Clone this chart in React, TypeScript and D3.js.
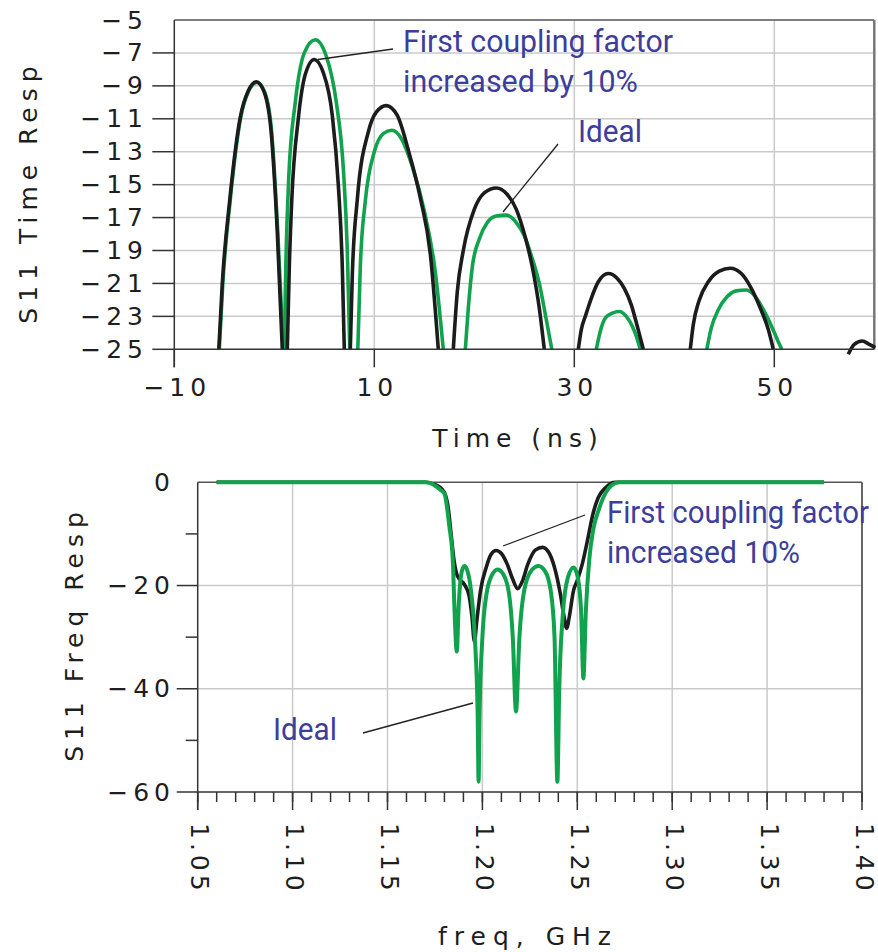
import React, { useEffect, useRef } from 'react'
import * as d3 from 'd3'

// S11 time response, one array per lobe: [time ns, dB]
const timeIncreased = [
  [[-5.55, -25], [-5.2, -21], [-4.45, -15.9], [-3.4, -10.9], [-2.6, -9.3], [-1.8, -8.75], [-1.0, -9.4], [-0.3, -11.9], [0.3, -17.9], [0.8, -25]],
  [[1.3, -25], [1.5, -20], [1.75, -15.9], [2.4, -11], [3.1, -8.3], [4.0, -7.4], [4.9, -8.2], [5.8, -10.8], [6.4, -15], [6.8, -20], [7.0, -25]],
  [[7.6, -25], [7.8, -20.5], [8.3, -15.9], [9.4, -11.8], [10.2, -10.6], [11.2, -10.2], [12.3, -10.8], [13.4, -12.9], [14.6, -15.8], [15.6, -19.2], [16.4, -25]],
  [[17.9, -25], [18.3, -21.5], [18.9, -19], [20.0, -16.5], [21.0, -15.5], [22.2, -15.2], [23.3, -15.6], [24.2, -16.5], [25.1, -18.2], [25.8, -20], [26.5, -22.5], [27.0, -25]],
  [[30.4, -25], [30.7, -23.8], [31.1, -23.0], [31.7, -21.9], [32.4, -20.9], [33.4, -20.4], [34.3, -20.7], [35.0, -21.3], [35.7, -22.3], [36.3, -23.6], [36.9, -25]],
  [[41.6, -25], [41.9, -23.5], [42.5, -22], [43.4, -20.9], [44.5, -20.25], [45.6, -20.08], [46.7, -20.4], [47.7, -21.3], [48.6, -22.5], [49.4, -23.8], [49.9, -25]],
  [[57.4, -25.3], [58.0, -24.7], [58.8, -24.5], [59.5, -24.7], [60.1, -24.9]]
]
const timeIdeal = [
  [[-5.5, -25], [-5.15, -21], [-4.4, -15.9], [-3.35, -10.9], [-2.55, -9.3], [-1.75, -8.8], [-0.95, -9.4], [-0.25, -11.9], [0.35, -17.9], [0.9, -25]],
  [[1.0, -25], [1.15, -20], [1.45, -14.5], [2.1, -10], [3.0, -7], [4.1, -6.2], [5.2, -7.2], [6.2, -10], [6.9, -14], [7.3, -19], [7.55, -25]],
  [[8.35, -25], [8.6, -20], [9.1, -16], [10, -13], [10.9, -11.9], [11.75, -11.7], [12.7, -12.2], [13.8, -13.9], [15, -16.6], [16.1, -20.3], [16.9, -25]],
  [[19.1, -25], [19.4, -22.5], [19.8, -20], [20.5, -18.3], [21.3, -17.3], [22.2, -16.9], [23.2, -16.85], [24.2, -17.3], [25.0, -18.1], [25.8, -19.5], [26.5, -21.0], [27.2, -23.2], [27.75, -25]],
  [[32.2, -25], [32.6, -23.9], [33.1, -23.1], [33.8, -22.8], [34.5, -22.7], [35.2, -23.0], [35.8, -23.6], [36.2, -24.2], [36.6, -25]],
  [[43.25, -25], [43.7, -23.7], [44.4, -22.6], [45.3, -21.8], [46.2, -21.45], [47.2, -21.4], [48.1, -21.8], [49.0, -22.7], [49.8, -23.7], [50.3, -24.4], [50.75, -25]]
]
const timeTicksX = [-10, 10, 30, 50]
const timeTicksY = [-5, -7, -9, -11, -13, -15, -17, -19, -21, -23, -25]

// S11 frequency response: [GHz, dB]
const freqIncreased = [
  [1.06, 0], [1.12, 0], [1.17, 0], [1.174, -0.3], [1.177, -0.8], [1.18, -2], [1.182, -5], [1.1835, -10], [1.185, -15],
  [1.1865, -17.8], [1.188, -18.8], [1.1905, -19.8], [1.193, -22], [1.1945, -26], [1.1958, -30.9], [1.197, -27],
  [1.199, -21], [1.202, -16.5], [1.2045, -14], [1.2072, -13.2], [1.21, -13.8], [1.213, -15.8], [1.216, -18.8],
  [1.2186, -20.6], [1.221, -19.2], [1.224, -15.8], [1.228, -13.1], [1.2317, -12.6], [1.235, -13.6], [1.238, -16.5],
  [1.241, -21.5], [1.243, -26], [1.2444, -28.3], [1.2458, -26], [1.248, -21], [1.25, -19], [1.2525, -16],
  [1.2555, -11], [1.258, -6.5], [1.261, -3], [1.265, -1], [1.27, 0], [1.32, 0], [1.38, 0]
]
const freqIdeal = [
  [1.06, 0], [1.12, 0], [1.17, 0], [1.1735, -0.3], [1.1756, -0.8], [1.178, -1.5], [1.18, -2.2], [1.1826, -8.6],
  [1.1844, -15.1], [1.1853, -24.7], [1.1865, -32.8], [1.1875, -24], [1.189, -17.5], [1.1905, -16.2], [1.192, -17],
  [1.194, -21], [1.196, -30], [1.1975, -45], [1.198, -58], [1.1985, -45], [1.2, -30], [1.202, -22], [1.205, -18],
  [1.208, -16.9], [1.211, -17.8], [1.214, -21.5], [1.216, -30], [1.2177, -44.4], [1.2195, -30], [1.222, -21],
  [1.226, -17], [1.2296, -16.2], [1.233, -17.2], [1.236, -21], [1.238, -30], [1.2395, -58], [1.2405, -40],
  [1.2425, -25], [1.245, -18.5], [1.248, -16.5], [1.25, -18], [1.252, -25], [1.2532, -38], [1.2545, -25],
  [1.2563, -15], [1.2585, -9], [1.2616, -5], [1.265, -2], [1.268, -0.6], [1.272, 0], [1.32, 0], [1.38, 0]
]
const freqTicksX = [1.05, 1.1, 1.15, 1.2, 1.25, 1.3, 1.35, 1.4]
const freqTickLabels = ['1.05', '1.10', '1.15', '1.20', '1.25', '1.30', '1.35', '1.40']
const freqTicksY = [0, -20, -40, -60]
const freqMinorY = [-10, -30, -50]

const GREEN = '#10a24c'
const BLACK = '#1c1c1c'
const GRID = '#cacaca'
const NOTE = '#3d3d9b'
const TICK_FONT = 'DejaVu Sans, sans-serif'
const NOTE_FONT = 'Liberation Sans Narrow, Roboto, sans-serif'

// condensed annotation text: squeeze the glyphs to the wanted width
function addNote(g, t, nx, ny, len) {
  const txt = g.append('text').text(t)
    .style('font-family', NOTE_FONT).style('font-size', '31px').style('fill', NOTE)
  const w = txt.node().getComputedTextLength() || len
  txt.attr('transform', `translate(${nx},${ny}) scale(${len / w},1)`)
}

const App = () => {
  const ref = useRef(null)

  function drawTime(svg) {
    const x = d3.scaleLinear().domain([-10, 60]).range([174.3, 874.3])
    const y = d3.scaleLinear().domain([-25, -5]).range([349.3, 20])
    const g = svg.append('g')

    // grid
    g.selectAll('.hgrid')
      .data(timeTicksY.filter((d) => d !== -5 && d !== -25))
      .enter()
      .append('line')
      .attr('x1', x(-10)).attr('x2', x(60))
      .attr('y1', (d) => y(d)).attr('y2', (d) => y(d))
      .attr('stroke', GRID).attr('stroke-width', 1.5)
    g.selectAll('.vgrid')
      .data(timeTicksX.filter((d) => d !== -10))
      .enter()
      .append('line')
      .attr('x1', (d) => x(d)).attr('x2', (d) => x(d))
      .attr('y1', y(-5)).attr('y2', y(-25))
      .attr('stroke', GRID).attr('stroke-width', 1.5)

    // frame
    g.append('line').attr('x1', x(-10)).attr('x2', x(60)).attr('y1', y(-5)).attr('y2', y(-5))
      .attr('stroke', '#555').attr('stroke-width', 1.5)
    g.append('line').attr('x1', x(60)).attr('x2', x(60)).attr('y1', y(-5)).attr('y2', y(-25))
      .attr('stroke', '#777').attr('stroke-width', 2.5)

    // curves
    const clipId = 'clipTime'
    svg.append('defs').append('clipPath').attr('id', clipId)
      .append('rect').attr('x', x(-10)).attr('y', y(-5)).attr('width', x(60) - x(-10) + 2).attr('height', y(-25) - y(-5) + 6)
    const line = d3.line().x((d) => x(d[0])).y((d) => y(d[1])).curve(d3.curveMonotoneX)
    const cg = g.append('g').attr('clip-path', `url(#${clipId})`)
    cg.selectAll('.ideal').data(timeIdeal).enter().append('path')
      .attr('d', line).attr('fill', 'none').attr('stroke', GREEN).attr('stroke-width', 3.6)
    cg.selectAll('.incr').data(timeIncreased).enter().append('path')
      .attr('d', line).attr('fill', 'none').attr('stroke', BLACK).attr('stroke-width', 3.6)

    // axes
    g.append('line').attr('x1', x(-10)).attr('x2', x(60)).attr('y1', y(-25)).attr('y2', y(-25))
      .attr('stroke', '#333').attr('stroke-width', 1.5)
    g.append('line').attr('x1', x(-10)).attr('x2', x(-10)).attr('y1', y(-5)).attr('y2', y(-25) + 18)
      .attr('stroke', '#333').attr('stroke-width', 1.5)
    g.selectAll('.ytick').data(timeTicksY.filter((d) => d !== -5)).enter().append('line')
      .attr('x1', x(-10) - 22).attr('x2', x(-10))
      .attr('y1', (d) => y(d)).attr('y2', (d) => y(d))
      .attr('stroke', '#333').attr('stroke-width', 1.5)
    g.selectAll('.xtick').data(timeTicksX).enter().append('line')
      .attr('x1', (d) => x(d)).attr('x2', (d) => x(d))
      .attr('y1', y(-25)).attr('y2', y(-25) + 18)
      .attr('stroke', '#333').attr('stroke-width', 1.5)

    // tick labels
    g.selectAll('.ylab').data(timeTicksY).enter().append('text')
      .text((d) => String(d).replace('-', '\u2212'))
      .attr('x', 148).attr('y', (d) => y(d))
      .attr('text-anchor', 'end').attr('dominant-baseline', 'central')
      .style('font-family', TICK_FONT).style('font-size', '25px').style('letter-spacing', '5px').style('fill', '#1e1e1e')
    g.selectAll('.xlab').data(timeTicksX).enter().append('text')
      .text((d) => String(d).replace('-', '\u2212'))
      .attr('x', (d) => x(d) + 3).attr('y', 396)
      .attr('text-anchor', 'middle')
      .style('font-family', TICK_FONT).style('font-size', '25px').style('letter-spacing', '5px').style('fill', '#1e1e1e')

    // titles
    g.append('text').text('Time (ns)').attr('x', 518).attr('y', 447).attr('text-anchor', 'middle')
      .style('font-family', TICK_FONT).style('font-size', '25px').style('letter-spacing', '6px').style('fill', '#1e1e1e')
    g.append('text').text('S11 Time Resp').attr('transform', 'translate(28,192) rotate(-90)')
      .attr('text-anchor', 'middle').attr('dominant-baseline', 'central')
      .style('font-family', TICK_FONT).style('font-size', '25px').style('letter-spacing', '6px').style('fill', '#1e1e1e')

    // annotations
    g.append('line').attr('x1', 393).attr('y1', 49).attr('x2', 318).attr('y2', 59.5).attr('stroke', '#222').attr('stroke-width', 1.3)
    g.append('line').attr('x1', 558).attr('y1', 144).attr('x2', 503).attr('y2', 212).attr('stroke', '#222').attr('stroke-width', 1.3)
    addNote(g, 'First coupling factor', 403, 52, 270)
    addNote(g, 'increased by 10%', 403, 91.5, 235)
    addNote(g, 'Ideal', 578, 142, 64)
  }

  function drawFreq(svg) {
    const x = d3.scaleLinear().domain([1.05, 1.4]).range([197.7, 862])
    const y = d3.scaleLinear().domain([-60, 0]).range([792, 482.3])
    const g = svg.append('g')

    g.selectAll('.hgrid').data([-20, -40]).enter().append('line')
      .attr('x1', x(1.05)).attr('x2', x(1.4))
      .attr('y1', (d) => y(d)).attr('y2', (d) => y(d))
      .attr('stroke', GRID).attr('stroke-width', 1.5)
    g.selectAll('.vgrid').data(freqTicksX.slice(1, -1)).enter().append('line')
      .attr('x1', (d) => x(d)).attr('x2', (d) => x(d))
      .attr('y1', y(0)).attr('y2', y(-60))
      .attr('stroke', GRID).attr('stroke-width', 1.5)

    g.append('line').attr('x1', x(1.05)).attr('x2', x(1.4)).attr('y1', y(0)).attr('y2', y(0))
      .attr('stroke', '#555').attr('stroke-width', 1.5)
    g.append('line').attr('x1', x(1.4)).attr('x2', x(1.4)).attr('y1', y(0)).attr('y2', y(-60))
      .attr('stroke', '#666').attr('stroke-width', 2)

    const line = d3.line().x((d) => x(d[0])).y((d) => y(d[1])).curve(d3.curveMonotoneX)
    g.append('path').datum(freqIncreased).attr('d', line).attr('fill', 'none')
      .attr('stroke', BLACK).attr('stroke-width', 3.6).attr('stroke-linejoin', 'round')
    g.append('path').datum(freqIdeal).attr('d', line).attr('fill', 'none')
      .attr('stroke', GREEN).attr('stroke-width', 4).attr('stroke-linejoin', 'round')

    // axes
    g.append('line').attr('x1', x(1.05) - 21).attr('x2', x(1.4)).attr('y1', y(-60)).attr('y2', y(-60))
      .attr('stroke', '#333').attr('stroke-width', 1.5)
    g.append('line').attr('x1', x(1.05)).attr('x2', x(1.05)).attr('y1', y(0)).attr('y2', y(-60) + 18)
      .attr('stroke', '#333').attr('stroke-width', 1.5)
    g.selectAll('.ytick').data([-20, -40]).enter().append('line')
      .attr('x1', x(1.05) - 21).attr('x2', x(1.05))
      .attr('y1', (d) => y(d)).attr('y2', (d) => y(d))
      .attr('stroke', '#333').attr('stroke-width', 1.5)
    g.selectAll('.ymin').data(freqMinorY).enter().append('line')
      .attr('x1', x(1.05) - 12).attr('x2', x(1.05))
      .attr('y1', (d) => y(d)).attr('y2', (d) => y(d))
      .attr('stroke', '#333').attr('stroke-width', 1.5)
    g.selectAll('.xmin').data(x.ticks(35)).enter().append('line')
      .attr('x1', (d) => x(d)).attr('x2', (d) => x(d))
      .attr('y1', y(-60)).attr('y2', y(-60) + 10)
      .attr('stroke', '#333').attr('stroke-width', 1.5)
    g.selectAll('.xtick').data(freqTicksX).enter().append('line')
      .attr('x1', (d) => x(d)).attr('x2', (d) => x(d))
      .attr('y1', y(-60)).attr('y2', y(-60) + 18)
      .attr('stroke', '#333').attr('stroke-width', 1.5)

    g.selectAll('.ylab').data(freqTicksY).enter().append('text')
      .text((d) => String(d).replace('-', '\u2212'))
      .attr('x', 175).attr('y', (d) => y(d))
      .attr('text-anchor', 'end').attr('dominant-baseline', 'central')
      .style('font-family', TICK_FONT).style('font-size', '25px').style('letter-spacing', '5px').style('fill', '#1e1e1e')
    g.selectAll('.xlab').data(freqTicksX).enter().append('text')
      .text((d, i) => freqTickLabels[i])
      .attr('transform', (d) => `translate(${x(d) + 2},823) rotate(90)`)
      .attr('text-anchor', 'start').attr('dominant-baseline', 'central')
      .style('font-family', TICK_FONT).style('font-size', '25px').style('letter-spacing', '4px').style('fill', '#1e1e1e')

    g.append('text').text('freq, GHz').attr('x', 528).attr('y', 945).attr('text-anchor', 'middle')
      .style('font-family', TICK_FONT).style('font-size', '25px').style('letter-spacing', '7px').style('fill', '#1e1e1e')
    g.append('text').text('S11 Freq Resp').attr('transform', 'translate(74,634) rotate(-90)')
      .attr('text-anchor', 'middle').attr('dominant-baseline', 'central')
      .style('font-family', TICK_FONT).style('font-size', '25px').style('letter-spacing', '6px').style('fill', '#1e1e1e')

    g.append('line').attr('x1', 585).attr('y1', 515).attr('x2', 503).attr('y2', 546).attr('stroke', '#222').attr('stroke-width', 1.3)
    g.append('line').attr('x1', 363).attr('y1', 733).attr('x2', 473).attr('y2', 703).attr('stroke', '#222').attr('stroke-width', 1.3)
    addNote(g, 'First coupling factor', 607, 523, 262)
    addNote(g, 'increased 10%', 607, 563, 193)
    addNote(g, 'Ideal', 273, 740, 64)
  }

  useEffect(() => {
    const svg = d3.select(ref.current)
    svg.selectAll('*').remove()
    drawTime(svg)
    drawFreq(svg)
  }, [])

  return (
    <svg
      ref={ref}
      width={878}
      height={952}
      style={{ position: 'absolute', left: 0, top: 0, background: '#fff' }}
    />
  )
}

export default App
